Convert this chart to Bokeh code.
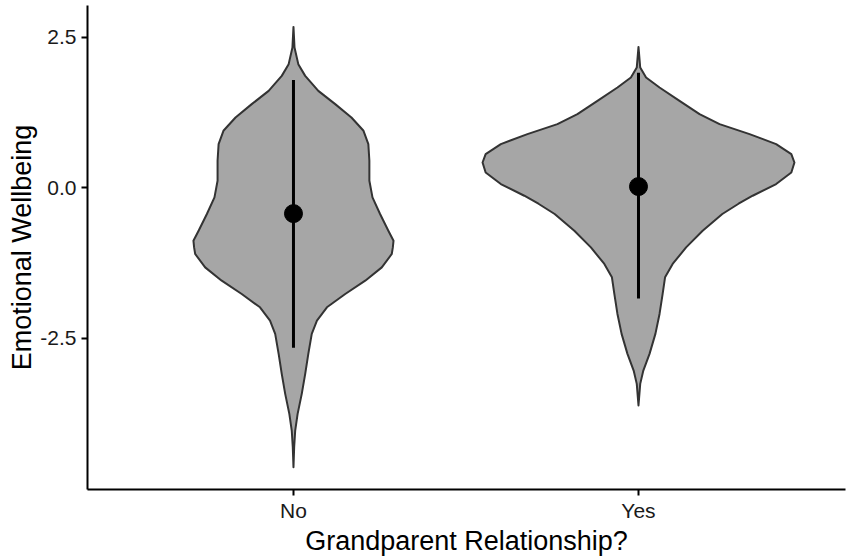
from bokeh.plotting import figure
from bokeh.models import FixedTicker, Range1d
from bokeh.embed import file_html
from bokeh.resources import INLINE

categories = ["No", "Yes"]
cat_pos = [1, 2]

# violin outlines: value (y) and half-width (category units)
no_y = [2.674, 2.331, 2.055, 1.860, 1.611, 1.390, 1.168, 0.947, 0.726, 0.449, 0.116, -0.161,
        -0.437, -0.714, -0.880, -0.992, -1.101, -1.324, -1.545, -1.766, -1.988, -2.209,
        -2.430, -2.762, -3.095, -3.427, -3.759, -4.037, -4.314, -4.646]
no_w = [0.0, 0.003, 0.014, 0.034, 0.072, 0.121, 0.168, 0.203, 0.217, 0.220, 0.220, 0.229,
        0.251, 0.275, 0.290, 0.288, 0.285, 0.256, 0.208, 0.150, 0.097, 0.068,
        0.053, 0.043, 0.034, 0.024, 0.012, 0.005, 0.002, 0.0]

yes_y = [2.342, 1.998, 1.832, 1.666, 1.445, 1.224, 1.058, 0.892, 0.726, 0.560, 0.420, 0.254,
         0.061, -0.133, -0.266, -0.437, -0.714, -0.992, -1.267, -1.490, -1.766, -2.098,
         -2.430, -2.762, -3.040, -3.261, -3.621]
yes_w = [0.0, 0.005, 0.022, 0.061, 0.119, 0.177, 0.235, 0.322, 0.399, 0.443, 0.452, 0.443,
         0.399, 0.331, 0.290, 0.243, 0.186, 0.138, 0.099, 0.077, 0.070, 0.061,
         0.049, 0.032, 0.014, 0.005, 0.0]

means = [-0.43, 0.02]
lower = [-2.66, -1.84]
upper = [1.79, 1.91]

p = figure(width=851, height=559, output_backend="svg", toolbar_location=None,
           x_range=Range1d(0.403, 2.6), y_range=Range1d(-5.017, 3.03),
           min_border_left=87, min_border_right=6, min_border_top=5, min_border_bottom=70)
p.xgrid.visible = False
p.ygrid.visible = False
p.outline_line_color = None
p.background_fill_color = "white"
p.border_fill_color = "white"

for cx, ys, ws in [(cat_pos[0], no_y, no_w), (cat_pos[1], yes_y, yes_w)]:
    xs = [cx - w for w in ws] + [cx + w for w in reversed(ws)]
    yy = list(ys) + list(reversed(ys))
    p.patch(xs, yy, fill_color="#A6A6A6", line_color="#333333", line_width=2,
            line_join="round")

p.segment(x0=cat_pos, y0=lower, x1=cat_pos, y1=upper, line_color="black", line_width=3)
p.scatter(x=cat_pos, y=means, size=18, fill_color="black", line_color="black")

p.xaxis.ticker = FixedTicker(ticks=cat_pos)
p.xaxis.major_label_overrides = {c: l for c, l in zip(cat_pos, categories)}
p.yaxis.ticker = FixedTicker(ticks=[-2.5, 0.0, 2.5])
p.yaxis.major_label_overrides = {-2.5: "-2.5", 0.0: "0.0", 2.5: "2.5"}
p.xaxis.axis_label = "Grandparent Relationship?"
p.yaxis.axis_label = "Emotional Wellbeing"

for ax in (p.xaxis, p.yaxis):
    ax.axis_line_color = "black"
    ax.axis_line_width = 2
    ax.major_tick_line_color = "black"
    ax.major_tick_line_width = 2
    ax.major_tick_out = 6
    ax.major_tick_in = 0
    ax.minor_tick_line_color = None
    ax.major_label_text_font = "Liberation Sans"
    ax.major_label_text_font_size = "21px"
    ax.major_label_text_color = "#1a1a1a"
    ax.axis_label_text_font = "Liberation Sans"
    ax.axis_label_text_font_size = "27px"
    ax.axis_label_text_font_style = "normal"
    ax.axis_label_text_color = "black"

p.xaxis.major_label_standoff = 3
p.yaxis.major_label_standoff = 5
p.xaxis.axis_label_standoff = 1
p.yaxis.axis_label_standoff = 0

open("out.html", "w").write(file_html(p, INLINE))
